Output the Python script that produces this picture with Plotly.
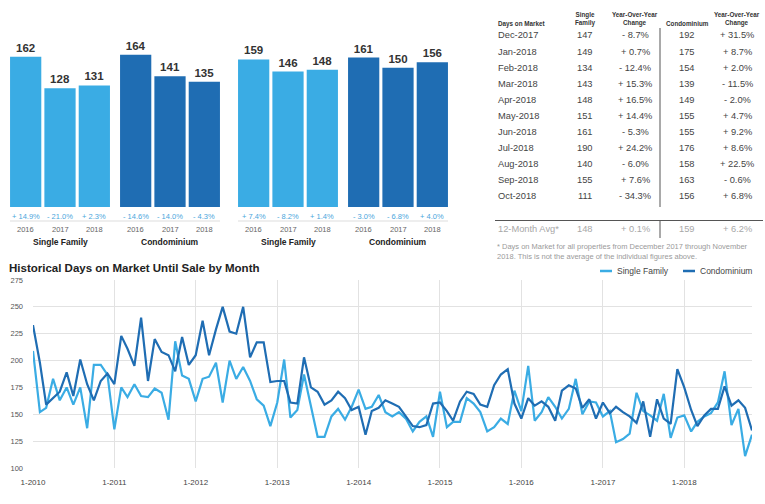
import plotly.graph_objects as go
import pandas as pd

W, H = 765, 504

# ---------------- data ----------------
years = ["2016", "2017", "2018"]
nov_sf = [162, 128, 131]
nov_sf_chg = ["+ 14.9%", "- 21.0%", "+ 2.3%"]
nov_condo = [164, 141, 135]
nov_condo_chg = ["- 14.6%", "- 14.0%", "- 4.3%"]
ytd_sf = [159, 146, 148]
ytd_sf_chg = ["+ 7.4%", "- 8.2%", "+ 1.4%"]
ytd_condo = [161, 150, 156]
ytd_condo_chg = ["- 3.0%", "- 6.8%", "+ 4.0%"]

table_header = ["Days on Market", "Single<br>Family", "Year-Over-Year<br>Change",
                "Condominium", "Year-Over-Year<br>Change"]
table_months = ["Dec-2017", "Jan-2018", "Feb-2018", "Mar-2018", "Apr-2018", "May-2018",
                "Jun-2018", "Jul-2018", "Aug-2018", "Sep-2018", "Oct-2018"]
table_sf = [147, 149, 134, 143, 148, 151, 161, 190, 140, 155, 111]
table_sf_chg = ["- 8.7%", "+ 0.7%", "- 12.4%", "+ 15.3%", "+ 16.5%", "+ 14.4%",
                "- 5.3%", "+ 24.2%", "- 6.0%", "+ 7.6%", "- 34.3%"]
table_condo = [192, 175, 154, 139, 149, 155, 155, 176, 158, 163, 156]
table_condo_chg = ["+ 31.5%", "+ 8.7%", "+ 2.0%", "- 11.5%", "- 2.0%", "+ 4.7%",
                   "+ 9.2%", "+ 8.6%", "+ 22.5%", "- 0.6%", "+ 6.8%"]
avg_row = ["12-Month Avg*", "148", "+ 0.1%", "159", "+ 6.2%"]
footnote = ("* Days on Market for all properties from December 2017 through November<br>"
            "2018. This is not the average of the individual figures above.")

hist_start = "2010-01-01"
hist_sf = [
    209, 152, 156, 183, 163, 175, 159, 175, 137, 196, 196, 187,   # 2010
    136, 175, 166, 178, 167, 166, 174, 170, 145, 218, 186, 183,   # 2011
    162, 183, 185, 198, 161, 200, 183, 194, 181, 164, 158, 139,   # 2012
    161, 201, 147, 154, 187, 158, 129, 129, 148, 155, 145, 157,   # 2013
    173, 155, 157, 168, 152, 148, 152, 146, 134, 143, 148, 129,   # 2014
    171, 138, 143, 143, 165, 160, 152, 134, 138, 146, 141, 172,   # 2015
    153, 195, 144, 152, 166, 157, 146, 155, 183, 150, 162, 161,   # 2016
    148, 153, 124, 127, 132, 170, 153, 149, 144, 169, 128, 147,   # 2017
    149, 134, 143, 148, 151, 161, 190, 140, 155, 111, 131,        # 2018
]
hist_condo = [
    233, 198, 159, 165, 171, 189, 167, 201, 178, 163, 181, 188,   # 2010
    178, 223, 211, 195, 240, 181, 220, 208, 205, 190, 222, 196,   # 2011
    205, 237, 205, 229, 250, 227, 225, 250, 203, 217, 217, 180,   # 2012
    181, 181, 161, 160, 203, 175, 171, 159, 163, 171, 165, 154,   # 2013
    157, 131, 153, 156, 163, 160, 157, 148, 139, 138, 140, 160,   # 2014
    161, 153, 144, 162, 171, 169, 159, 157, 177, 187, 192, 160,   # 2015
    146, 165, 158, 162, 157, 144, 172, 177, 174, 156, 164, 146,   # 2016
    161, 151, 157, 152, 148, 142, 162, 129, 164, 146, 141, 192,   # 2017
    175, 154, 139, 149, 155, 155, 176, 158, 163, 156, 135,        # 2018
]

# ---------------- style ----------------
C_SF = "#3aace4"
C_CONDO = "#1f6db3"
C_PCT = "#4aa6dc"
FONT = "Liberation Sans, Arial, sans-serif"
NARROW = "Liberation Sans Narrow, Arial Narrow, Liberation Sans, sans-serif"


def px(x):
    return x / W


def py(y):
    return 1 - y / H


fig = go.Figure()
annotations = []
shapes = []

groups = [
    (nov_sf, nov_sf_chg, C_SF, (8.5, 111.5), "Single Family"),
    (nov_condo, nov_condo_chg, C_CONDO, (118.5, 221.5), "Condominium"),
    (ytd_sf, ytd_sf_chg, C_SF, (236.5, 339.5), "Single Family"),
    (ytd_condo, ytd_condo_chg, C_CONDO, (346.5, 449.5), "Condominium"),
]

bar_bottom, bar_top = 207, 21.4   # pixel rows for 0 and 200
for i, (vals, chg, color, (x0, x1), label) in enumerate(groups, start=1):
    xa = "x" if i == 1 else f"x{i}"
    ya = "y" if i == 1 else f"y{i}"
    fig.add_trace(go.Bar(
        x=years, y=vals, marker=dict(color=color, line=dict(width=0)),
        text=[str(v) for v in vals], textposition="outside",
        textfont=dict(family=FONT, size=11.5, color="#333333", weight="bold"),
        cliponaxis=False, constraintext="none",
        xaxis=xa, yaxis=ya, showlegend=False, hoverinfo="skip",
    ))
    fig.update_layout(**{
        ("xaxis" if i == 1 else f"xaxis{i}"): dict(
            domain=[px(x0), px(x1)], type="category", categoryarray=years,
            range=[-0.5, len(years) - 0.5], showticklabels=False, automargin=False,
            showgrid=False, zeroline=False, showline=False, anchor=ya, fixedrange=True),
        ("yaxis" if i == 1 else f"yaxis{i}"): dict(
            domain=[py(bar_bottom), py(bar_top)], range=[0, 200], visible=False,
            automargin=False, anchor=xa, fixedrange=True),
    })
    for k, (yr, c) in enumerate(zip(years, chg)):
        annotations.append(dict(x=k, xref=xa, y=py(216), yref="paper", text=c,
                                showarrow=False, font=dict(family=FONT, size=7.5, color=C_PCT),
                                xanchor="center", yanchor="middle"))
        annotations.append(dict(x=k, xref=xa, y=py(229.5), yref="paper", text=yr,
                                showarrow=False, font=dict(family=FONT, size=7.5, color="#666666"),
                                xanchor="center", yanchor="middle"))
    annotations.append(dict(x=px((x0 + x1) / 2), xref="paper", y=py(241.5), yref="paper",
                            text=f"<b>{label}</b>", showarrow=False,
                            font=dict(family=FONT, size=8.5, color="#222222"),
                            xanchor="center", yanchor="middle"))

# light separators beneath percent rows
for (a, b) in [(10, 220), (238, 448)]:
    shapes.append(dict(type="line", xref="paper", yref="paper", x0=px(a), x1=px(b),
                       y0=py(221), y1=py(221), line=dict(color="#dddddd", width=1)))

# ---------------- table ----------------
col_x = [496, 585, 635, 687, 737]
col_anchor = ["left", "center", "center", "center", "center"]
for j, htxt in enumerate(table_header):
    two = "<br>" in htxt
    annotations.append(dict(x=px(col_x[j]), xref="paper",
                            y=py(19 if two else 23.5), yref="paper",
                            text=f"<b>{htxt}</b>", showarrow=False, align="center",
                            font=dict(family=FONT, size=6.3, color="#333333"),
                            xanchor=col_anchor[j], yanchor="middle"))

for r, m in enumerate(table_months):
    yrow = 35.5 + 16.05 * r
    cells = [m, str(table_sf[r]), table_sf_chg[r], str(table_condo[r]), table_condo_chg[r]]
    for j, c in enumerate(cells):
        annotations.append(dict(x=px(col_x[j]), xref="paper", y=py(yrow), yref="paper",
                                text=c, showarrow=False,
                                font=dict(family=FONT, size=9.3, color="#444444"),
                                xanchor=col_anchor[j], yanchor="middle"))
for j, c in enumerate(avg_row):
    annotations.append(dict(x=px(col_x[j]), xref="paper", y=py(229.5), yref="paper",
                            text=c, showarrow=False,
                            font=dict(family=FONT, size=9.3, color="#a8a8a8"),
                            xanchor=col_anchor[j], yanchor="middle"))
annotations.append(dict(x=px(495), xref="paper", y=py(251), yref="paper", text=footnote,
                        showarrow=False, align="left",
                        font=dict(family=FONT, size=7.5, color="#9a9a9a"),
                        xanchor="left", yanchor="middle"))
shapes += [
    dict(type="line", xref="paper", yref="paper", x0=px(660), x1=px(660),
         y0=py(28), y1=py(207), line=dict(color="#555555", width=1)),
    dict(type="line", xref="paper", yref="paper", x0=px(660), x1=px(660),
         y0=py(221), y1=py(238), line=dict(color="#555555", width=1)),
    dict(type="line", xref="paper", yref="paper", x0=px(495), x1=px(763),
         y0=py(220.5), y1=py(220.5), line=dict(color="#555555", width=1)),
]

# ---------------- line chart ----------------
dates = pd.date_range(hist_start, periods=len(hist_sf), freq="MS")
fig.add_trace(go.Scatter(x=dates, y=hist_sf, mode="lines", name="Single Family",
                         line=dict(color=C_SF, width=2.2), xaxis="x5", yaxis="y5",
                         showlegend=False))
fig.add_trace(go.Scatter(x=dates, y=hist_condo, mode="lines", name="Condominium",
                         line=dict(color=C_CONDO, width=2.2), xaxis="x5", yaxis="y5",
                         showlegend=False))
fig.update_layout(
    xaxis5=dict(domain=[px(33), px(752)], anchor="y5", type="date",
                range=[dates[0], dates[-1]], tick0=hist_start, dtick="M12",
                tickformat="%-m-%Y", showgrid=True, gridcolor="#e2e2e2", gridwidth=1,
                zeroline=False, showline=False, ticks="", ticklabelstandoff=8,
                automargin=False,
                tickfont=dict(family=FONT, size=8, color="#444444"), fixedrange=True),
    yaxis5=dict(domain=[py(468), py(280)], anchor="x5", range=[100, 275],
                tick0=100, dtick=25, showgrid=True, gridcolor="#e2e2e2", gridwidth=1,
                zeroline=False, showline=False, ticks="", ticklabelstandoff=9,
                automargin=False,
                tickfont=dict(family=FONT, size=7.5, color="#555555"), fixedrange=True),
)
annotations.append(dict(x=px(7), xref="paper", y=py(268), yref="paper",
                        text="<b>Historical Days on Market Until Sale by Month</b>",
                        showarrow=False, font=dict(family=NARROW, size=11.5, color="#222222"),
                        xanchor="left", yanchor="middle"))
# legend
for (lx0, lx1, tx, name, color) in [(600, 612, 615, "Single Family", C_SF),
                                     (683, 695, 698, "Condominium", C_CONDO)]:
    shapes.append(dict(type="line", xref="paper", yref="paper", x0=px(lx0), x1=px(lx1),
                       y0=py(271), y1=py(271), line=dict(color=color, width=2.5)))
    annotations.append(dict(x=px(tx), xref="paper", y=py(271), yref="paper", text=name,
                            showarrow=False, font=dict(family=FONT, size=8.5, color="#444444"),
                            xanchor="left", yanchor="middle"))

fig.update_layout(
    width=W, height=H, margin=dict(l=0, r=0, t=0, b=0, autoexpand=False),
    paper_bgcolor="white", plot_bgcolor="white",
    bargap=0.09, annotations=annotations, shapes=shapes,
    font=dict(family=FONT),
)
fig.write_html("out.html", config={"displayModeBar": False},
               post_script="document.body.style.margin='0';document.body.style.overflow='hidden';")
